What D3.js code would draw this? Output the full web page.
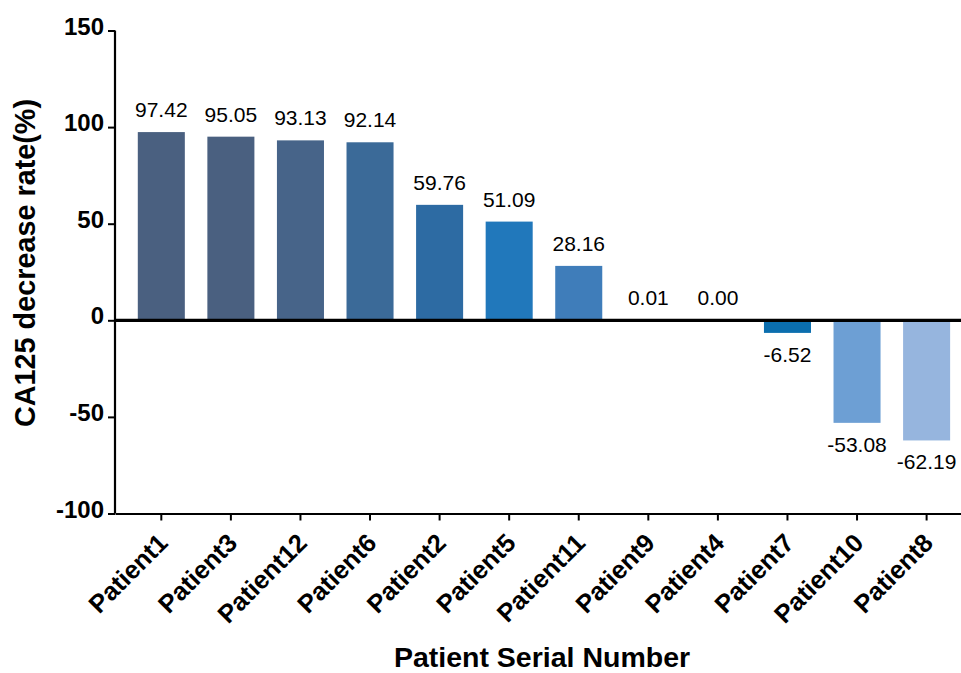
<!DOCTYPE html>
<html>
<head>
<meta charset="utf-8">
<script src="https://cdn.jsdelivr.net/npm/d3@7"></script>
<style>
  html, body { margin: 0; padding: 0; background: #fff; }
  svg { display: block; }
  text { font-family: "Liberation Sans", Arial, Helvetica, sans-serif; }
</style>
</head>
<body>
<svg id="chart" width="961" height="673"></svg>
<script>
const categories = ["Patient1","Patient3","Patient12","Patient6","Patient2","Patient5","Patient11","Patient9","Patient4","Patient7","Patient10","Patient8"];
const values = [97.42, 95.05, 93.13, 92.14, 59.76, 51.09, 28.16, 0.01, 0.00, -6.52, -53.08, -62.19];
const labels = ["97.42","95.05","93.13","92.14","59.76","51.09","28.16","0.01","0.00","-6.52","-53.08","-62.19"];
const colors = ["#4a6080","#4a6080","#476489","#3b6a98","#2d6ba3","#2178bb","#3f7dba","#2a6fae","#2a6fae","#0b6eae","#6d9fd4","#96b5de"];
const yTicks = [-100, -50, 0, 50, 100, 150];
const yTitle = "CA125 decrease rate(%)";
const xTitle = "Patient Serial Number";

(function () {
const svg = d3.select("#chart");
const mLeft = 115, mRight = 961, mTop = 30.5, mBottom = 513.5;

const x = d3.scaleBand().domain(categories).range([mLeft, mRight])
  .paddingInner(0.324).paddingOuter(0.242).align(0.677);
const y = d3.scaleLinear().domain([-100, 150]).range([mBottom, mTop]);

// bars
svg.append("g").selectAll("rect").data(categories).join("rect")
  .attr("x", d => x(d))
  .attr("width", x.bandwidth())
  .attr("y", (d, i) => y(Math.max(0, values[i])))
  .attr("height", (d, i) => Math.abs(y(values[i]) - y(0)))
  .attr("fill", (d, i) => colors[i]);

// value labels
svg.append("g").selectAll("text").data(categories).join("text")
  .attr("x", d => x(d) + x.bandwidth() / 2)
  .attr("y", (d, i) => values[i] >= 0 ? y(values[i]) - 15 : y(values[i]) + 29)
  .attr("text-anchor", "middle")
  .attr("font-size", "21px")
  .attr("fill", "#000")
  .text((d, i) => labels[i]);

// y axis
const yAxis = svg.append("g")
  .attr("transform", `translate(${mLeft},0)`)
  .call(d3.axisLeft(y).tickValues(yTicks).tickSize(7).tickPadding(4).tickFormat(d => String(d)));
yAxis.select(".domain").attr("stroke", "#000").attr("stroke-width", 2.2).attr("d", `M0,${mTop}V${mBottom}`);
yAxis.selectAll(".tick line").attr("stroke", "#000").attr("stroke-width", 2);
yAxis.selectAll(".tick text")
  .attr("font-size", "24px").attr("font-weight", "bold").attr("fill", "#000")
  .attr("dy", "0.15em")
  .style("font-family", "'Liberation Sans', Arial, sans-serif");

// x axis (bottom)
const xAxis = svg.append("g")
  .attr("transform", `translate(0,${mBottom})`)
  .call(d3.axisBottom(x).tickSize(7).tickSizeOuter(0));
xAxis.select(".domain").attr("stroke", "#000").attr("stroke-width", 2.2);
xAxis.selectAll(".tick line").attr("stroke", "#000").attr("stroke-width", 2);
xAxis.selectAll(".tick text")
  .attr("font-size", "25.5px").attr("font-weight", "bold").attr("fill", "#000")
  .attr("text-anchor", "end")
  .attr("x", 0).attr("y", 0).attr("dy", 0)
  .attr("transform", "translate(8,31) rotate(-45)")
  .style("font-family", "'Liberation Sans', Arial, sans-serif");

// zero line
svg.append("line")
  .attr("x1", mLeft).attr("x2", mRight)
  .attr("y1", y(0)).attr("y2", y(0))
  .attr("stroke", "#000").attr("stroke-width", 3.2);

// axis titles
svg.append("text")
  .attr("transform", `translate(35,263) rotate(-90)`)
  .attr("text-anchor", "middle")
  .attr("font-size", "28.8px").attr("font-weight", "bold")
  .text(yTitle);

svg.append("text")
  .attr("x", 542).attr("y", 667)
  .attr("text-anchor", "middle")
  .attr("font-size", "28.5px").attr("font-weight", "bold")
  .text(xTitle);
})();
</script>
</body>
</html>
